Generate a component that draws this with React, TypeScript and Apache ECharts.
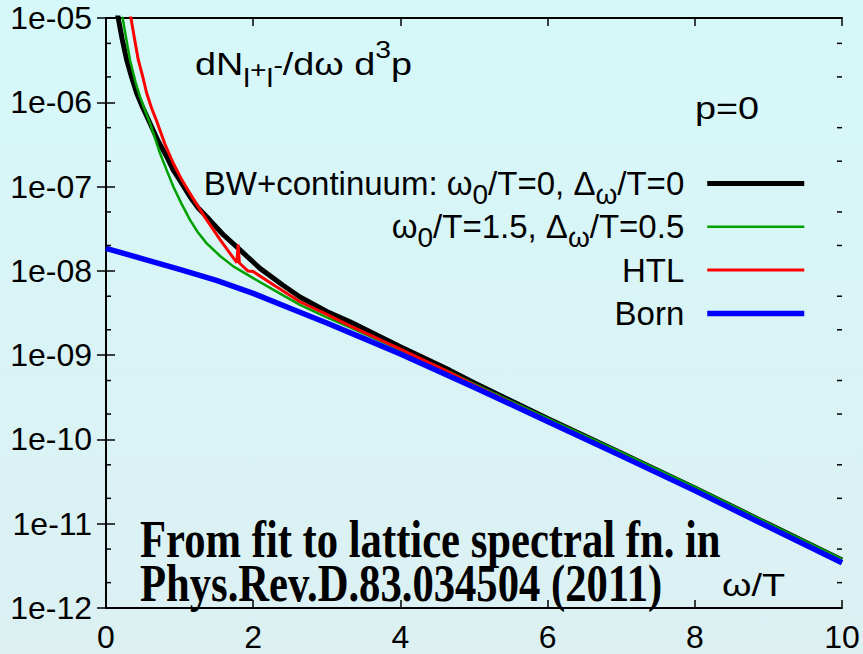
import React, { useEffect, useRef } from 'react';
import * as echarts from 'echarts';

// BW+continuum (omega0/T=0, Delta/T=0)
const bwX = [0.12, 0.167, 0.22, 0.281, 0.35, 0.417, 0.5, 0.598, 0.7, 0.825, 0.914, 1.0, 1.141, 1.25, 1.368, 1.6, 1.821, 2.092, 2.4, 2.636, 3.0, 3.315, 4.0, 4.674, 5, 6, 7, 8, 9, 10];
const bwY = [1.7e-5, 9.9e-6, 5.6e-6, 3.18e-6, 1.95e-6, 1.28e-6, 8.6e-7, 5.64e-7, 3.6e-7, 2.26e-7, 1.57e-7, 1.2e-7, 7.59e-8, 5.6e-8, 4.39e-8, 2.65e-8, 1.77e-8, 1.07e-8, 6.8e-9, 4.9e-9, 3.3e-9, 2.49e-9, 1.26e-9, 6.6e-10, 4.7e-10, 1.77e-10, 6.9e-11, 2.66e-11, 9.9e-12, 3.72e-12];

// omega0/T=1.5, Delta/T=0.5
const grX = [0.17, 0.227, 0.27, 0.326, 0.4, 0.462, 0.53, 0.598, 0.66, 0.734, 0.82, 0.914, 1.02, 1.141, 1.25, 1.368, 1.55, 1.73, 2.0, 2.3, 2.636, 3.0, 3.315, 4.0, 4.674, 5, 6, 7, 8, 9, 10];
const grY = [1.8e-5, 9.9e-6, 6.0e-6, 3.18e-6, 1.75e-6, 1.16e-6, 8.0e-7, 5.64e-7, 3.9e-7, 2.48e-7, 1.6e-7, 1.0e-7, 6.4e-8, 4.02e-8, 2.85e-8, 2.12e-8, 1.5e-8, 1.13e-8, 8.2e-9, 5.8e-9, 3.94e-9, 2.8e-9, 2.14e-9, 1.15e-9, 6.3e-10, 4.55e-10, 1.78e-10, 7.0e-11, 2.71e-11, 1.01e-11, 3.79e-12];

// HTL
const htlX = [0.28, 0.34, 0.39, 0.439, 0.5, 0.553, 0.62, 0.693, 0.8, 0.914, 1.02, 1.141, 1.25, 1.368, 1.55, 1.7, 1.778, 1.795, 1.812, 1.93, 2.0, 2.3, 2.636, 3.0, 3.315, 4.0, 4.674, 5, 6, 7, 8, 9, 10];
const htlY = [1.7e-5, 9.9e-6, 5.5e-6, 3.18e-6, 2.0e-6, 1.28e-6, 8.5e-7, 5.83e-7, 3.2e-7, 1.89e-7, 1.25e-7, 8.3e-8, 5.8e-8, 4.02e-8, 2.35e-8, 1.55e-8, 1.25e-8, 2.05e-8, 1.24e-8, 9.95e-9, 9.8e-9, 6.6e-9, 4.3e-9, 3.05e-9, 2.22e-9, 1.18e-9, 6.2e-10, 4.4e-10, 1.68e-10, 6.5e-11, 2.5e-11, 9.3e-12, 3.48e-12];

// Born
const bornX = [0, 0.5, 1, 1.5, 2, 2.5, 3, 3.5, 4, 5, 6, 7, 8, 9, 10];
const bornY = [1.85e-8, 1.39e-8, 1.04e-8, 7.7e-9, 5.4e-9, 3.6e-9, 2.41e-9, 1.58e-9, 1.03e-9, 4.17e-10, 1.63e-10, 6.38e-11, 2.47e-11, 9.2e-12, 3.45e-12];

const seriesNames = ['BW', 'G', 'HTL', 'Born'];
const seriesColors = ['#000000', '#00a000', '#ff0000', '#0000ff'];
const seriesWidths = [5, 2.5, 3, 5.5];
const legendLabels = [
  'BW+continuum: ω{s|0}/T=0, Δ{s|ω}/T=0',
  'ω{s|0}/T=1.5, Δ{s|ω}/T=0.5',
  'HTL',
  'Born',
];
const minorTickValues = [2e-12, 5e-12, 2e-11, 5e-11, 2e-10, 5e-10, 2e-9, 5e-9, 2e-8, 5e-8, 2e-7, 5e-7, 2e-6, 5e-6];

const SANS = '"Liberation Sans", Arial, Helvetica, sans-serif';
const SERIF = '"Liberation Serif", "Times New Roman", serif';

const pairs = (xs: number[], ys: number[]) => xs.map((x, i) => [x, ys[i]]);

const tok = (size: number, padTop: number) => ({
  fontFamily: SANS, fontSize: size, lineHeight: 90, verticalAlign: 'top', padding: [padTop, 0, 0, 0], fill: '#000',
});

export default function App() {
  const ref = useRef<HTMLDivElement>(null);
  useEffect(() => {
    if (!ref.current) return;
    const chart = echarts.init(ref.current, undefined, { renderer: 'svg' });
    const axisLine = { show: true, lineStyle: { color: '#000', width: 2 } };
    const tickStyle = { color: '#000', width: 1.5 };
    const yFmt = (v: number) => {
      const e = Math.round(Math.log10(v));
      return '1e' + (e < 0 ? '-' : '+') + String(Math.abs(e)).padStart(2, '0');
    };
    const allData = [pairs(bwX, bwY), pairs(grX, grY), pairs(htlX, htlY), pairs(bornX, bornY)];
    const lineSeries = seriesNames.map((name, i) => ({
      name, type: 'line', data: allData[i], symbol: 'none', clip: true,
      lineStyle: { color: seriesColors[i], width: seriesWidths[i] },
      itemStyle: { color: seriesColors[i] },
    }));
    chart.setOption({
      animation: false,
      backgroundColor: 'transparent',
      grid: { left: 106, top: 18, right: 21, bottom: 46 },
      xAxis: [
        {
          type: 'value', min: 0, max: 10, interval: 2, position: 'bottom',
          axisLine, axisTick: { inside: true, length: 8, lineStyle: tickStyle },
          axisLabel: { color: '#000', fontFamily: SANS, fontSize: 32, lineHeight: 30, margin: 14 },
          splitLine: { show: false },
        },
        {
          type: 'value', min: 0, max: 10, interval: 2, position: 'top',
          axisLine, axisTick: { inside: true, length: 8, lineStyle: tickStyle },
          axisLabel: { show: false }, splitLine: { show: false },
        },
      ],
      yAxis: [
        {
          type: 'log', logBase: 10, min: 1e-12, max: 1e-5, splitNumber: 7, position: 'left',
          axisLine, axisTick: { inside: true, length: 9, lineStyle: tickStyle },
          axisLabel: { color: '#000', fontFamily: SANS, fontSize: 32, margin: 14, formatter: yFmt },
          splitLine: { show: false },
        },
        {
          type: 'log', logBase: 10, min: 1e-12, max: 1e-5, splitNumber: 7, position: 'right',
          axisLine, axisTick: { inside: true, length: 9, lineStyle: tickStyle },
          axisLabel: { show: false }, splitLine: { show: false },
        },
      ],
      legend: {
        data: seriesNames.map((name, i) => ({
          name,
          lineStyle: { color: seriesColors[i], width: seriesWidths[i] },
          itemStyle: { opacity: 0 },
        })),
        orient: 'vertical', align: 'right', right: 56, top: 159, padding: 0,
        itemWidth: 97, itemHeight: 14, itemGap: -5.7,
        itemStyle: { opacity: 0 },
        formatter: (name: string) => legendLabels[seriesNames.indexOf(name)],
        selectedMode: false,
        textStyle: {
          color: '#000', fontFamily: SANS, fontSize: 33, lineHeight: 49, padding: [0, 18, 0, 0],
          rich: { s: { fontFamily: SANS, fontSize: 28, lineHeight: 28, verticalAlign: 'bottom', color: '#000' } },
        },
      },
      series: [
        ...lineSeries,
        {
          name: 'minor', type: 'custom', silent: true, z: 5,
          data: minorTickValues.map((v) => [0, v]),
          renderItem: (params: any, api: any) => {
            const v = api.value(1);
            const pL = api.coord([0, v]);
            const pR = api.coord([10, v]);
            return {
              type: 'group',
              children: [
                { type: 'line', shape: { x1: pL[0], y1: pL[1], x2: pL[0] + 5, y2: pL[1] }, style: { stroke: '#000', lineWidth: 1.5 } },
                { type: 'line', shape: { x1: pR[0], y1: pR[1], x2: pR[0] - 5, y2: pR[1] }, style: { stroke: '#000', lineWidth: 1.5 } },
              ],
            };
          },
        },
      ],
      graphic: [
        {
          type: 'text', x: 195, y: 30, scaleX: 1.18,
          style: {
            text: '{m|dN}{sb|l}{p|+}{sb|l}{n|-}{m|/dω d}{t|3}{m|p}',
            x: 0, y: 0, verticalAlign: 'top', fill: '#000',
            fontFamily: SANS, fontSize: 32,
            rich: {
              m: tok(32, 18),
              sb: tok(26, 35),
              p: tok(24, 28),
              n: tok(24, 23),
              t: tok(24, 8),
            },
          },
        },
        {
          type: 'text', x: 695, y: 108, scaleX: 1.18,
          style: { text: 'p=0', x: 0, y: 0, verticalAlign: 'middle', fill: '#000', fontFamily: SANS, fontSize: 32 },
        },
        {
          type: 'text', x: 722, y: 585, scaleX: 1.18,
          style: { text: 'ω/T', x: 0, y: 0, verticalAlign: 'middle', fill: '#000', fontFamily: SANS, fontSize: 32 },
        },
        {
          type: 'text', x: 140, y: 540, scaleX: 0.82,
          style: { text: 'From fit to lattice spectral fn. in', x: 0, y: 0, verticalAlign: 'middle', fill: '#000', fontFamily: SERIF, fontWeight: 'bold', fontSize: 52 },
        },
        {
          type: 'text', x: 140, y: 584, scaleX: 0.82,
          style: { text: 'Phys.Rev.D.83.034504 (2011)', x: 0, y: 0, verticalAlign: 'middle', fill: '#000', fontFamily: SERIF, fontWeight: 'bold', fontSize: 52 },
        },
      ],
    });
    return () => chart.dispose();
  }, []);
  return (
    <div
      ref={ref}
      style={{
        position: 'fixed', left: 0, top: 0, width: 863, height: 654,
        background: 'linear-gradient(#d6f8f9, #dcf0f2)',
      }}
    />
  );
}
